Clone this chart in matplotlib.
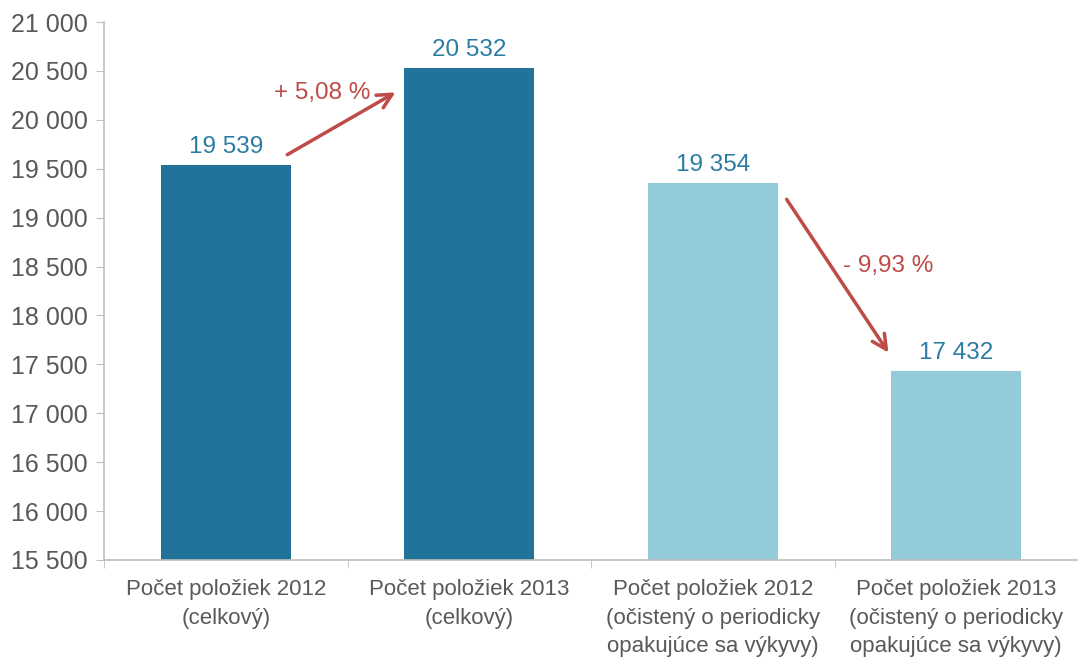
import matplotlib
matplotlib.use("Agg")
from matplotlib import pyplot as plt
from matplotlib.ticker import FuncFormatter

plt.rcParams['font.family'] = ['Liberation Sans', 'DejaVu Sans']

categories = [
    "Počet položiek 2012\n(celkový)",
    "Počet položiek 2013\n(celkový)",
    "Počet položiek 2012\n(očistený o periodicky\nopakujúce sa výkyvy)",
    "Počet položiek 2013\n(očistený o periodicky\nopakujúce sa výkyvy)",
]
values = [19539, 20532, 19354, 17432]
changes = ["+ 5,08 %", "- 9,93 %"]

dark = "#21739a"
light = "#94cbdb"
bar_colors = [dark, dark, light, light]
grey = "#595959"
red = "#be4b48"

fig = plt.figure(figsize=(10.78, 6.6), dpi=100)
ax = fig.add_axes([104 / 1078, 100 / 660, 974 / 1078, 538 / 660])

x = list(range(len(values)))
ax.bar(x, values, width=0.535, color=bar_colors)

for i, v in enumerate(values):
    ax.text(i, v + 70, f"{v:,}".replace(",", " "), ha='center', va='bottom',
            fontsize=17.5, color="#2a7ca3")

# arrows with percentage change
ax.annotate("", xy=(0.707, 20295), xytext=(0.243, 19630),
            arrowprops=dict(arrowstyle="->", color=red, lw=2.5,
                            mutation_scale=26))
ax.text(0.395, 20274, changes[0], ha='center', va='center',
        fontsize=17.5, color=red)
ax.annotate("", xy=(2.728, 17596), xytext=(2.297, 19211),
            arrowprops=dict(arrowstyle="->", color=red, lw=2.5,
                            mutation_scale=26))
ax.text(2.72, 18506, changes[1], ha='center', va='center',
        fontsize=17.5, color=red)

ax.set_xlim(-0.5, 3.5)
ax.set_ylim(15500, 21000)
ax.set_yticks(range(15500, 21001, 500))
ax.yaxis.set_major_formatter(FuncFormatter(lambda v, p: f"{int(v):,}".replace(",", " ")))

ax.set_xticks(x)
ax.set_xticklabels(categories, linespacing=1.45)
ax.set_xticks([-0.5, 0.5, 1.5, 2.5, 3.5], minor=True)
ax.tick_params(axis='x', which='major', length=0, pad=14, labelsize=16,
               labelcolor=grey)
ax.tick_params(axis='x', which='minor', length=6, color="#bfbfbf")
ax.tick_params(axis='y', length=6, color="#bfbfbf", labelsize=18,
               labelcolor=grey, pad=5.5)

for s in ['top', 'right']:
    ax.spines[s].set_visible(False)
for s in ['left', 'bottom']:
    ax.spines[s].set_color("#bfbfbf")
    ax.spines[s].set_linewidth(1.2)

plt.savefig("out.png", dpi=100)
